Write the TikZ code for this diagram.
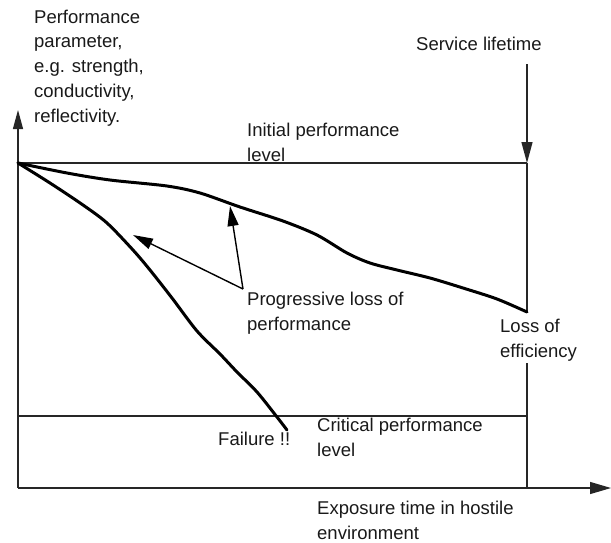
\documentclass[tikz,border=0pt]{standalone}
\usepackage{fontspec}
\setmainfont{Liberation Sans}
\usetikzlibrary{arrows.meta}
\begin{document}
\begin{tikzpicture}[x=1pt,y=-1pt,
  lbl/.style={anchor=base west, align=left, inner sep=0pt, text=black!90,
    font=\fontsize{18.5}{24.7}\selectfont},
  axisline/.style={line width=1.3pt, black!85},
  curveline/.style={line width=3pt, line cap=round, line join=round},
  pointer/.style={line width=1.4pt, -{Triangle[length=20pt,width=11pt]}}
]
\useasboundingbox (0,0) rectangle (611,542);
% coordinates
\coordinate (O) at (18,488);
\coordinate (ytip) at (18,110);
\coordinate (xtip) at (611,488);
\coordinate (P0) at (18,163);
\coordinate (P1) at (527,163);
\coordinate (C0) at (18,416);
\coordinate (C1) at (527,416);
\coordinate (S0) at (527,64);
\coordinate (E1) at (527,312);
\coordinate (E2) at (527,363);
\coordinate (E3) at (527,488);
\coordinate (apex) at (243,289);
\coordinate (tipA) at (133,235);
\coordinate (tipB) at (230,206);
% axes
\draw[axisline, -{Triangle[length=19pt,width=10pt]}] (O) -- (ytip);
\draw[axisline, -{Triangle[length=21pt,width=12pt]}] (O) -- (xtip);
% levels
\draw[axisline] (P0) -- (P1);
\draw[axisline] (C0) -- (C1);
\draw[axisline, -{Triangle[length=21pt,width=11pt]}] (S0) -- (P1);
\draw[axisline] (P1) -- (E1);
\draw[axisline] (E2) -- (E3);
% curves
\draw[curveline] plot[smooth, tension=0.5] coordinates {(18,163) (67,173) (110,180) (167,186) (200,193) (240,207) (283,221) (317,235) (347,253) (370,263) (397,270) (430,278) (463,288) (497,299) (527,312)};
\draw[curveline] plot[smooth, tension=0.5] coordinates {(18,163) (50,183) (83,205) (107,223) (133,250) (150,270) (172,298) (197,331) (220,354) (237,372) (257,392) (277,417) (287,430)};
% pointers
\draw[pointer] (apex) -- (tipA);
\draw[pointer] (apex) -- (tipB);
% labels (anchor = baseline of the last line)
\node[lbl] (ylab) at (34,122) {Performance\\parameter,\\e.g. strength,\\conductivity,\\reflectivity.};
\node[lbl] (init) at (247,161) {Initial performance\\level};
\node[lbl] (svc) at (416,50) {Service lifetime};
\node[lbl] (prog) at (247,330) {Progressive loss of\\performance};
\node[lbl] (eff) at (500,357) {Loss of\\efficiency};
\node[lbl] (fail) at (218,445) {Failure !!};
\node[lbl] (crit) at (317,456) {Critical performance\\level};
\node[lbl] (xlab) at (317,539) {Exposure time in hostile\\environment};
\end{tikzpicture}
\end{document}
